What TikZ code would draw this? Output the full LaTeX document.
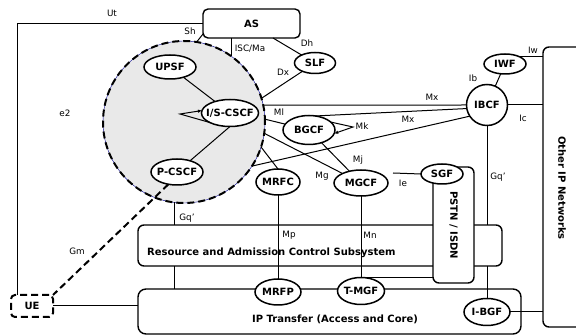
\documentclass[tikz,border=0pt]{standalone}
\usepackage{fontspec}
\setmainfont{DejaVu Sans}
\usetikzlibrary{shapes.geometric,arrows.meta}
\begin{document}
\begin{tikzpicture}[x=1pt,y=-1pt,
  lbl/.style={font=\fontsize{8.8}{10}\selectfont, inner sep=0pt},
  btxt/.style={font=\fontsize{10}{12}\selectfont\bfseries, inner sep=0pt},
  ell/.style={ellipse, draw, line width=1.5pt, fill=white, inner sep=0pt, outer sep=0pt},
  bx/.style={draw, rounded corners=6pt, line width=1.4pt, inner sep=0pt, outer sep=0pt},
  cn/.style={line width=1pt},
  dsh/.style={line width=2pt, dash pattern=on 7pt off 4pt},
  tip/.style={-{Latex[length=4pt,width=3.5pt]}},
  every label/.style={font=\fontsize{10}{12}\selectfont\bfseries, inner sep=0pt}
]
\clip (0,0) rectangle (576,336);
\fill[white] (0,0) rectangle (576,336);

% IMS circle
\node[circle, minimum size=162pt, inner sep=0pt, outer sep=0pt, fill=gray!17, draw=blue!55!black, line width=0.4pt] (cirbg) at (184,122) {};
\node[circle, minimum size=162pt, inner sep=0pt, outer sep=0pt, draw, dsh] (cir) at (184,122) {};

% boxes
\node[bx, minimum width=57pt, minimum height=280pt] (other) at (571.5,187) {};
\node[btxt, rotate=-90] (othert) at (562,188) {Other IP Networks};
\node[bx, rounded corners=8pt, minimum width=383pt, minimum height=45pt] (ip) at (329.5,311.5) {};
\node[btxt] (ipt) at (335,319) {IP Transfer (Access and Core)};
\node[bx, fill=white, minimum width=364pt, minimum height=41pt] (racs) at (320,245.5) {};
\node[btxt, anchor=west] (racst) at (147,253) {Resource and Admission Control Subsystem};
\node[bx, rounded corners=5pt, minimum width=97pt, minimum height=29pt, label={center:AS}] (as) at (251.5,23.5) {};
\node[bx, dsh, rounded corners=4pt, minimum width=42pt, minimum height=22pt, label={center:UE}] (ue) at (32,306) {};

% function nodes
\node[ell, minimum width=41pt, minimum height=21pt, label={center:SLF}] (slf) at (315,63) {};
\node[ell, minimum width=52pt, minimum height=24pt, label={center:UPSF}] (upsf) at (170,67) {};
\node[ell, minimum width=57pt, minimum height=27pt, label={center:I/S-CSCF}] (isc) at (230,113) {};
\node[ell, minimum width=52pt, minimum height=26pt, label={center:P-CSCF}] (pcscf) at (177,172) {};
\node[ell, minimum width=52pt, minimum height=29pt, label={center:BGCF}] (bgcf) at (309,130) {};
\node[ell, minimum width=44pt, minimum height=26pt, label={center:MRFC}] (mrfc) at (278,182) {};
\node[ell, minimum width=54pt, minimum height=26pt, label={center:MGCF}] (mgcf) at (361,183) {};
\node[circle, draw, line width=1.5pt, fill=white, minimum size=41pt, inner sep=0pt, outer sep=0pt, label={center:IBCF}] (ibcf) at (487,105) {};
\node[ell, minimum width=42pt, minimum height=20pt, label={center:IWF}] (iwf) at (505,64) {};
\node[ell, minimum width=46pt, minimum height=26pt, label={center:MRFP}] (mrfp) at (278,292) {};
\node[ell, minimum width=47pt, minimum height=27pt, label={center:T-MGF}] (tmgf) at (361,291) {};
\node[ell, minimum width=46pt, minimum height=27pt, label={center:I-BGF}] (ibgf) at (487,312) {};

% connectors
\draw[cn] (cirbg.81) -- ([yshift=4pt]as.south west);
\draw[cn] (cirbg.54.5) -- (cirbg.54.5 |- as.south);
\draw[cn] ([xshift=-27pt]as.south east) -- (slf);
\draw[cn] (slf) -- (cirbg.17.6);
\draw[cn] (as.west) -| ([xshift=6pt]ue.north west);
\draw[cn] (ue.east) -- (ue.east -| ip.west);
\draw[dsh] (pcscf.235) -- (ue.north east);
\draw[cn] (upsf) -- (isc);
\draw[cn] (isc.south) -- (pcscf);
\coordinate (lp1) at (180,114);
\draw[cn, tip] (isc.205) -- (lp1) -- (isc.175);
\draw[cn] (cirbg.12.1) -- (ibcf.west);
\draw[cn] (cirbg.2) -- (bgcf);
\draw[cn] (bgcf.65) -- (ibcf.190);
\draw[cn] (cirbg.-33) -- (ibcf.213);
\draw[cn] (cirbg.-8) -- (mgcf);
\draw[cn] (cirbg.-18) -- (mrfc.north);
\draw[cn] (bgcf) -- (mgcf);
\coordinate (lp2) at (353,127);
\draw[cn, tip] (bgcf.20) -- (lp2) -- (bgcf.-8);
\draw[cn] (ibcf) -- (iwf);
\draw[cn] (iwf.25) -- (iwf.25 -| other.west);
\draw[cn] (ibcf.east) -- (ibcf.east -| other.west);
\draw[cn] (ibgf.east) -- (ibgf.east -| other.west);
\draw[cn] (ibcf.south) -- (ibcf.south |- racs.north);
\draw[cn] (ibcf.south |- racs.south) -- (ibgf.north);
\draw[cn] (cirbg.-97.8) -- (cirbg.-97.8 |- racs.north);
\draw[cn] (cirbg.-97.8 |- racs.south) -- (cirbg.-97.8 |- ip.north);
\draw[cn] (mrfc.south) -- (mrfp.north);
\draw[cn] (mgcf.south) -- (tmgf.north);

% PSTN / ISDN
\node[bx, fill=white, minimum width=41pt, minimum height=116pt] (pstn) at (453.5,225) {};
\node[btxt, rotate=-90] (pstnt) at (453.5,225) {PSTN / ISDN};
\draw[cn] (tmgf.north) -- (tmgf.north -| pstn.west);
\node[ell, minimum width=42pt, minimum height=20pt, label={center:SGF}] (sgf) at (442,174) {};
\coordinate (iest) at (393,173);
\draw[cn] (iest) -- (sgf.west);

% interface labels
\node[lbl] (lut) at (112,13) {Ut};
\node[lbl] (lsh) at (190,31) {Sh};
\node[lbl] (lisc) at (250,49) {ISC/Ma};
\node[lbl] (ldh) at (307,43) {Dh};
\node[lbl] (ldx) at (283,72) {Dx};
\node[lbl] (le2) at (65,113) {e2};
\node[lbl] (lml) at (279,112) {Ml};
\node[lbl] (lmx1) at (432,97) {Mx};
\node[lbl] (lmx2) at (408,119) {Mx};
\node[lbl] (lmk) at (362,126) {Mk};
\node[lbl] (lmj) at (358,160) {Mj};
\node[lbl] (lmg) at (322,176) {Mg};
\node[lbl] (lie) at (403,183) {Ie};
\node[lbl] (lib) at (473,78) {Ib};
\node[lbl] (liw) at (533,50) {Iw};
\node[lbl] (lic) at (523,118) {Ic};
\node[lbl] (lgq1) at (498,177) {Gq’};
\node[lbl] (lgq2) at (187,218) {Gq’};
\node[lbl] (lgm) at (77,251) {Gm};
\node[lbl] (lmp) at (289,235) {Mp};
\node[lbl] (lmn) at (370,235) {Mn};
\end{tikzpicture}
\end{document}
